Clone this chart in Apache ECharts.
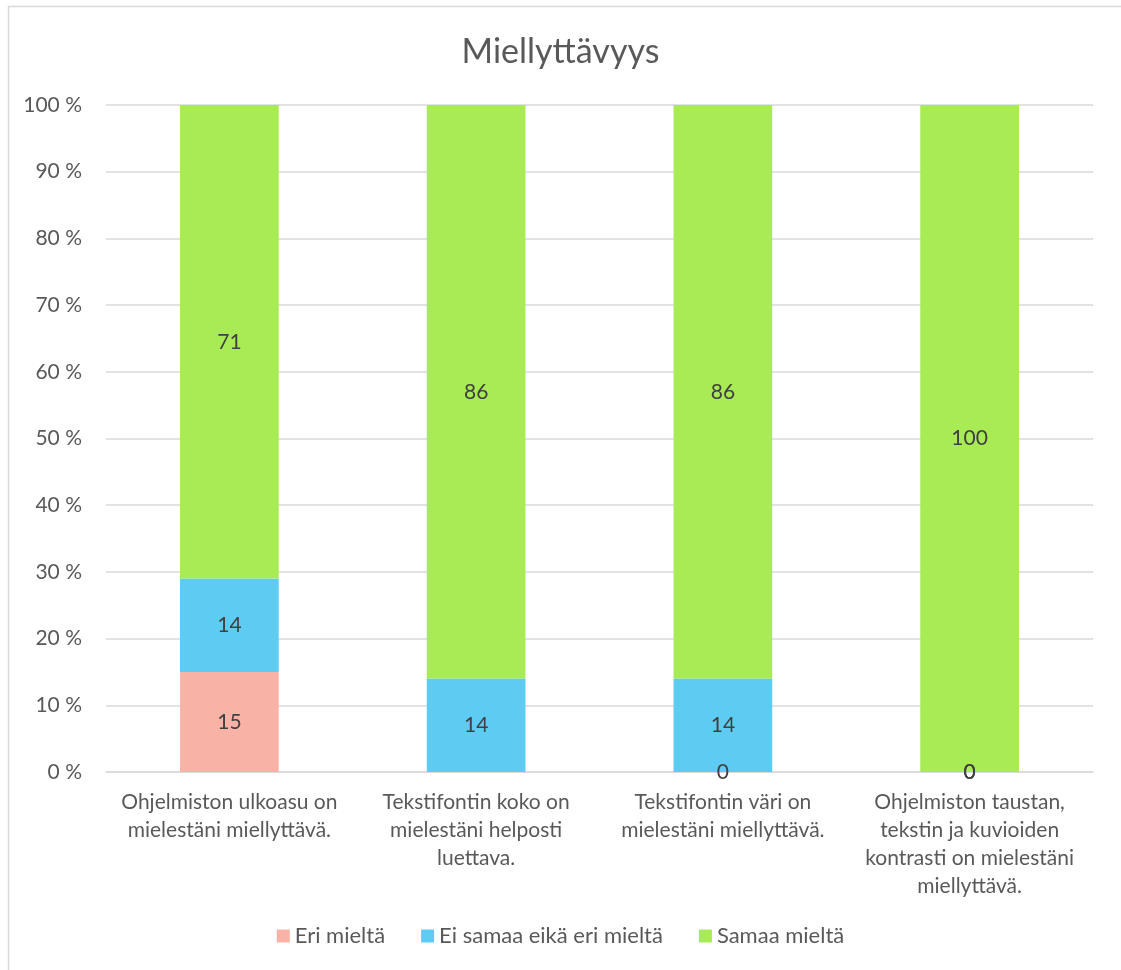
<!DOCTYPE html>
<html>
<head>
<meta charset="utf-8">
<script src="https://cdn.jsdelivr.net/npm/echarts@6/dist/echarts.min.js"></script>
<style>
  html, body { margin: 0; padding: 0; background: #ffffff; }
  #chart { width: 1121px; height: 970px; }
</style>
</head>
<body>
<div id="chart"></div>
<script>
// Survey statements (axis labels, wrapped as displayed)
const categories = [
  'Ohjelmiston ulkoasu on\nmielestäni miellyttävä.',
  'Tekstifontin koko on\nmielestäni helposti\nluettava.',
  'Tekstifontin väri on\nmielestäni miellyttävä.',
  'Ohjelmiston taustan,\ntekstin ja kuvioiden\nkontrasti on mielestäni\nmiellyttävä.'
];

// Answer shares (%) per statement
const eriMielta = [15, null, 0, 0];
const eiSamaaEikaEri = [14, 14, 14, 0];
const samaaMielta = [71, 86, 86, 100];

const seriesNames = ['Eri mieltä', 'Ei samaa eikä eri mieltä', 'Samaa mieltä'];
const seriesColors = ['#F8B3A6', '#5DCBF2', '#A9EB54'];

const yTicks = { min: 0, max: 100, interval: 10 };

const FONT = 'Lato, "Open Sans", sans-serif';
const TEXT = '#595959';

const chart = echarts.init(document.getElementById('chart'), null, { renderer: 'canvas' });

function barSeries(name, data, color) {
  return {
    name: name,
    type: 'bar',
    stack: 'total',
    barWidth: '40%',
    data: data,
    itemStyle: { color: color },
    label: {
      show: true,
      position: 'inside',
      color: '#404040',
      fontFamily: FONT,
      fontSize: 21,
      formatter: p => (p.value === null || p.value === undefined) ? '' : String(p.value)
    },
    emphasis: { disabled: true }
  };
}

chart.setOption({
  backgroundColor: '#ffffff',
  animation: false,
  graphic: [{
    type: 'rect',
    silent: true,
    z: -10,
    shape: { x: 8.5, y: 6.5, width: 1130, height: 980 },
    style: { fill: 'none', stroke: '#D9D9D9', lineWidth: 1.5 }
  }],
  title: {
    text: 'Miellyttävyys',
    left: 'center',
    top: 30,
    textStyle: { fontFamily: FONT, fontSize: 34, fontWeight: 'normal', color: TEXT }
  },
  legend: {
    bottom: 18,
    left: 'center',
    itemWidth: 13,
    itemHeight: 13,
    itemGap: 36,
    icon: 'rect',
    textStyle: { fontFamily: FONT, fontSize: 22, color: TEXT },
    data: seriesNames
  },
  grid: { left: 106, right: 28, top: 105, bottom: 198, containLabel: false },
  xAxis: {
    type: 'category',
    data: categories,
    axisLine: { show: true, lineStyle: { color: '#D9D9D9', width: 1.5 } },
    axisTick: { show: false },
    axisLabel: {
      interval: 0,
      margin: 16,
      fontFamily: FONT,
      fontSize: 21,
      lineHeight: 28,
      color: TEXT,
      align: 'center'
    }
  },
  yAxis: {
    type: 'value',
    min: yTicks.min,
    max: yTicks.max,
    interval: yTicks.interval,
    axisLine: { show: false },
    axisTick: { show: false },
    splitLine: { lineStyle: { color: '#D9D9D9', width: 1.5 } },
    axisLabel: {
      margin: 24,
      fontFamily: FONT,
      fontSize: 21,
      color: TEXT,
      formatter: v => v + ' %'
    }
  },
  series: [
    barSeries(seriesNames[0], eriMielta, seriesColors[0]),
    barSeries(seriesNames[1], eiSamaaEikaEri, seriesColors[1]),
    barSeries(seriesNames[2], samaaMielta, seriesColors[2])
  ]
});
</script>
</body>
</html>
